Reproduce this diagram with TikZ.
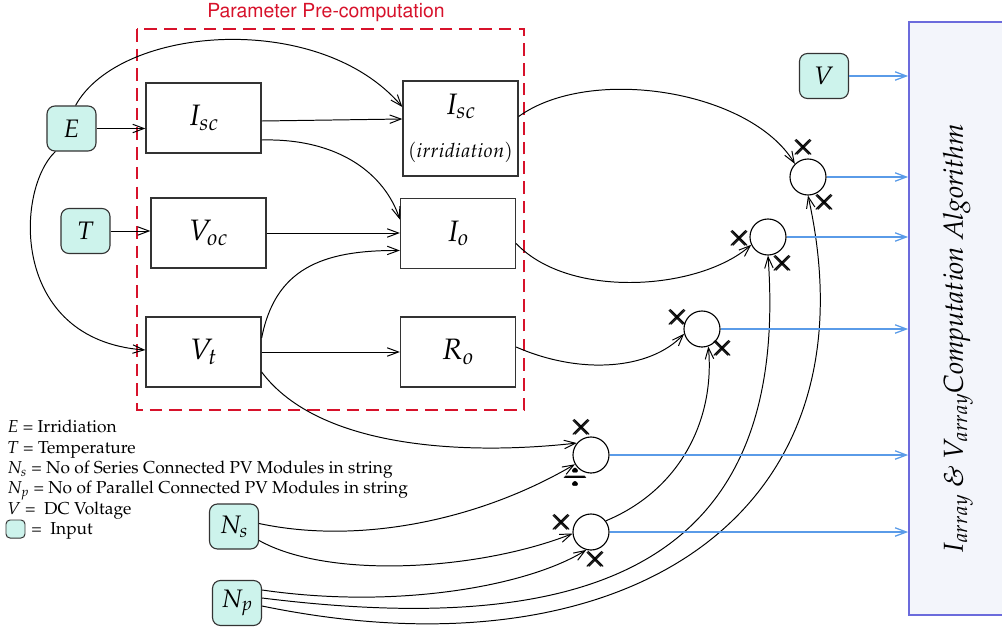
\documentclass[tikz,border=0pt]{standalone}
\usepackage[T1]{fontenc}
\usepackage{amsmath}
\usepackage{mathpazo}
\usepackage[scaled=0.92]{helvet}
\usepackage{xcolor}
\usetikzlibrary{arrows.meta,calc}
\definecolor{preRed}{HTML}{D7122B}
\definecolor{inFill}{HTML}{CDF3EC}
\definecolor{outBlue}{HTML}{5A9BE8}
\definecolor{algEdge}{HTML}{6B6BDC}
\definecolor{algFill}{HTML}{F3F5FB}

\begin{document}
\begin{tikzpicture}[x=0.025cm,y=-0.025cm,
  >={Straight Barb[length=8pt,width=6pt]},
  block/.style={draw=black!80,line width=0.9pt,minimum width=2.875cm,minimum height=1.75cm,
    inner sep=0pt,font=\fontsize{21}{24}\selectfont},
  inbox/.style={draw=black!80,fill=inFill,rounded corners=0.2cm,line width=0.8pt,
    minimum width=1.225cm,minimum height=1.125cm,inner sep=0pt,font=\fontsize{18}{21}\selectfont},
  opc/.style={draw,circle,line width=0.8pt,minimum size=0.9cm,inner sep=0pt},
  opsym/.style={inner sep=0pt,font=\fontsize{21}{21}\selectfont},
  wire/.style={->,line width=0.7pt},
  outwire/.style={->,draw=outBlue,line width=0.9pt}]
  \useasboundingbox (0,0) rectangle (1002,633);

  % --- parameter pre-computation
  \draw[preRed,line width=2pt,dash pattern=on 9pt off 5pt] (137,29) rectangle (524,410);
  \node[preRed,font=\sffamily\fontsize{15}{18}\selectfont] (pretitle) at (326,13) {Parameter Pre-computation};

  \node[block] (isc) at (203.5,118) {$I_{sc}$};
  \node[block] (voc) at (208.5,233) {$V_{oc}$};
  \node[block] (vt)  at (203.5,352) {$V_t$};
  \node[block,minimum height=2.375cm,align=center] (iirr) at (460.5,128.5)
    {$I_{sc}$\\[7pt]{\fontsize{14}{16}\selectfont$(irridiation)$}};
  \node[block] (io) at (458,233.5) {$I_o$};
  \node[block] (ro) at (458,352) {$R_o$};

  % --- inputs
  \node[inbox] (ein)  at (71.5,128.5) {$E$};
  \node[inbox] (tin)  at (85.5,231) {$T$};
  \node[inbox] (vin)  at (824,76) {$V$};
  \node[inbox] (nsin) at (234,526.5) {$N_s$};
  \node[inbox] (npin) at (237,603) {$N_p$};

  % --- operators
  \node[opc] (c1) at (808,177) {};
  \node[opc] (c2) at (768,237) {};
  \node[opc] (c3) at (702,329) {};
  \node[opc] (c4) at (591,455) {};
  \node[opc] (c5) at (591,532) {};
  \node[opsym] (m1a) at (804,147) {\pmb{$\times$}};
  \node[opsym] (m1b) at (825,202) {\pmb{$\times$}};
  \node[opsym] (m2a) at (740,238) {\pmb{$\times$}};
  \node[opsym] (m2b) at (783,263) {\pmb{$\times$}};
  \node[opsym] (m3a) at (678,317) {\pmb{$\times$}};
  \node[opsym] (m3b) at (723,348) {\pmb{$\times$}};
  \node[opsym] (m4a) at (582,427) {\pmb{$\times$}};
  \node[opsym] (d4b) at (576,477) {\pmb{$\div$}};
  \node[opsym] (m5a) at (562,522) {\pmb{$\times$}};
  \node[opsym] (m5b) at (596,559) {\pmb{$\times$}};

  % --- algorithm block
  \node[draw=algEdge,fill=algFill,line width=1.2pt,minimum width=2.6cm,minimum height=14.825cm] (alg) at (961,318.5) {};
  \node[rotate=90,font=\fontsize{19.5}{22}\selectfont\itshape] (algtxt) at (958,339)
    {$I_{array}$ \& $V_{array}$Computation Algorithm};

  % --- legend
  \node[anchor=north west,align=left,inner sep=0pt,font=\fontsize{12.3}{14.5}\selectfont] (legend) at (7,420)
    {$E$ = Irridiation\\ $T$ = Temperature\\ $N_s$ = No of Series Connected PV Modules in string\\
     $N_p$ = No of Parallel Connected PV Modules in string\\ $V$ =\ \ DC Voltage};
  \node[draw=black!80,fill=inFill,rounded corners=0.1cm,line width=0.7pt,minimum width=0.475cm,
    minimum height=0.45cm,inner sep=0pt] (legsw) at (15.5,529) {};
  \node[anchor=base west,inner sep=0pt,font=\fontsize{12.3}{14.5}\selectfont] (legin) at (31,534) {=\ \ Input};

  % --- connectors
  \draw[wire] (ein.east) -- (ein.east -| isc.west);
  \draw[wire] (tin.east) -- (tin.east -| voc.west);
  \draw[wire] (ein.80) .. controls (120,25) and (320,10) .. ($(iirr.west)+(0,-21.5)$);
  \draw[wire] (ein.235) .. controls (15,190) and (10,340) .. ($(vt.west)+(0,-2)$);
  \draw[wire] ($(isc.east)+(0,3)$) -- ($(iirr.west)+(0,-9.5)$);
  \draw[wire] ($(isc.east)+(0,22)$) .. controls (340,138) and (385,175) .. ($(io.west)+(0,-14)$);
  \draw[wire] (voc.east) -- (voc.east -| io.west);
  \draw[wire] ($(vt.east)+(0,-14)$) .. controls (275,270) and (320,250) .. ($(io.west)+(0,17)$);
  \draw[wire] (vt.east) -- (ro.west);
  \draw[wire] ($(vt.east)+(0,20)$) .. controls (320,450) and (470,455) .. (c4.140);
  \draw[wire] ($(iirr.east)+(0,-12)$) .. controls (590,65) and (750,90) .. (c1.135);
  \draw[wire] ($(io.east)+(0,10)$) .. controls (570,300) and (700,290) .. (c2.205);
  \draw[wire] ($(ro.east)+(0,-5)$) .. controls (580,375) and (650,370) .. (c3.195);
  \draw[wire] ($(nsin.east)+(0,-3)$) .. controls (360,545) and (480,520) .. (c4.210);
  \draw[wire] ($(nsin.east)+(0,14)$) .. controls (330,580) and (480,570) .. (c5.185);
  \draw[wire] ($(npin.east)+(0,-13)$) .. controls (400,610) and (530,585) .. (c5.255);
  \draw[wire] ($(npin.east)+(0,-5)$) .. controls (600,640) and (790,560) .. (c2.south);
  \draw[wire] ($(npin.east)+(0,3)$) .. controls (620,680) and (880,520) .. (c1.south);
  \draw[wire] (c5.37) .. controls (680,490) and (715,420) .. (c3.290);

  % --- outputs
  \draw[outwire] (vin.east) -- (vin.east -| alg.west);
  \foreach \c in {c1,c2,c3,c4,c5}
    \draw[outwire] (\c.east) -- (\c.east -| alg.west);
\end{tikzpicture}
\end{document}
